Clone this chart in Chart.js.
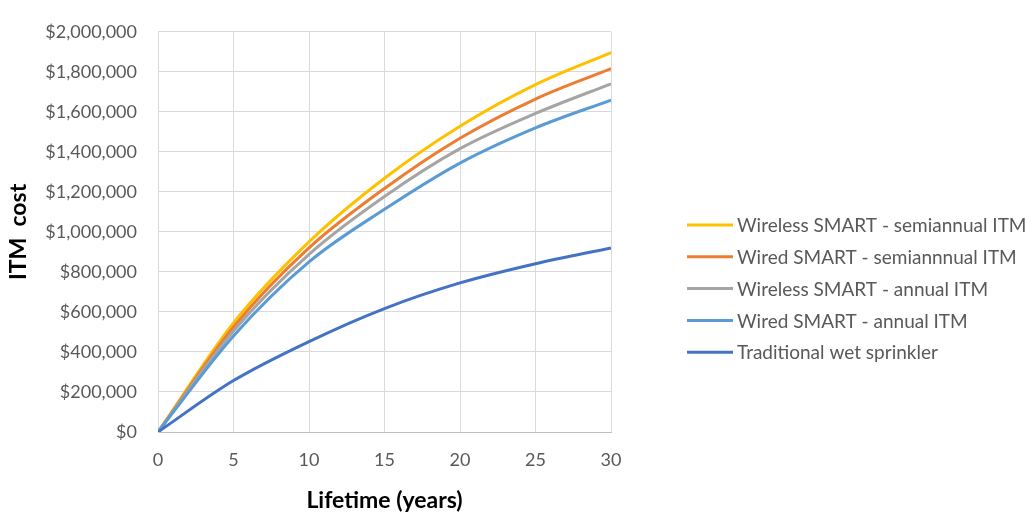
<!DOCTYPE html>
<html>
<head>
<meta charset="utf-8">
<script src="https://cdn.jsdelivr.net/npm/chart.js@4.4.1/dist/chart.umd.min.js"></script>
<style>
  html, body { margin: 0; padding: 0; background: #ffffff; }
  #wrap { width: 1030px; height: 520px; position: relative; }
</style>
</head>
<body>
<div id="wrap"><canvas id="c" width="1030" height="520"></canvas></div>
<script>
// ---- data ----
const years = [0, 5, 10, 15, 20, 25, 30];
const wirelessSemiannual = [0, 545000, 950000, 1268000, 1528000, 1736000, 1896000];
const wiredSemiannual    = [0, 525000, 920000, 1217000, 1468000, 1664000, 1816000];
const wirelessAnnual     = [0, 505000, 888000, 1177000, 1416000, 1592000, 1740000];
const wiredAnnual        = [0, 480000, 850000, 1113000, 1344000, 1520000, 1659000];
const traditionalWet     = [0, 257000, 452000, 617000, 745000, 841000, 920000];

const seriesNames = [
  'Wireless SMART - semiannual ITM',
  'Wired SMART - semiannnual ITM',
  'Wireless SMART - annual ITM',
  'Wired SMART - annual ITM',
  'Traditional wet sprinkler'
];
const seriesColors = ['#FFC000', '#ED7D31', '#A5A5A5', '#5B9BD5', '#4472C4'];
const seriesValues = [wirelessSemiannual, wiredSemiannual, wirelessAnnual, wiredAnnual, traditionalWet];

const xMin = 0, xMax = 30, xStep = 5;
const yMin = 0, yMax = 2000000, yStep = 200000;
const xTitle = 'Lifetime (years)';
const yTitle = 'ITM  cost';

const FONT = 'Lato, "Open Sans", "Liberation Sans", sans-serif';

const datasets = seriesValues.map((vals, i) => ({
  label: seriesNames[i],
  data: years.map((x, j) => ({ x: x, y: vals[j] })),
  borderColor: seriesColors[i],
  backgroundColor: seriesColors[i],
  borderWidth: 3,
  pointRadius: 0,
  pointHoverRadius: 0,
  cubicInterpolationMode: 'monotone',
  fill: false,
  order: seriesValues.length - i
}));

const legendPlugin = {
  id: 'customLegend',
  afterDraw(chart) {
    const ctx = chart.ctx;
    ctx.save();
    const x0 = 687, lineLen = 46, textX = 737;
    const yStart = 225, gap = 31.8;
    ctx.font = '19px ' + FONT;
    ctx.textBaseline = 'middle';
    ctx.textAlign = 'left';
    seriesNames.forEach((name, i) => {
      const y = yStart + i * gap;
      ctx.strokeStyle = seriesColors[i];
      ctx.lineWidth = 3;
      ctx.beginPath();
      ctx.moveTo(x0, y);
      ctx.lineTo(x0 + lineLen, y);
      ctx.stroke();
      ctx.fillStyle = '#595959';
      ctx.fillText(name, textX, y + 1);
    });
    ctx.restore();
  }
};

new Chart(document.getElementById('c'), {
  type: 'line',
  data: { datasets: datasets },
  plugins: [legendPlugin],
  options: {
    responsive: false,
    animation: false,
    devicePixelRatio: 1,
    layout: { padding: { left: 0, right: 419, top: 15, bottom: 0 } },
    plugins: {
      legend: { display: false },
      tooltip: { enabled: false }
    },
    scales: {
      x: {
        type: 'linear',
        min: xMin, max: xMax,
        afterFit(scale) { scale.height = 88; },
        ticks: {
          stepSize: xStep,
          color: '#595959',
          font: { family: FONT, size: 18 },
          padding: 17,
          maxRotation: 0
        },
        grid: { color: '#d9d9d9', lineWidth: 1, drawTicks: false },
        border: { color: '#bfbfbf', width: 1 },
        title: {
          display: true,
          text: xTitle,
          color: '#000000',
          font: { family: FONT, size: 23, weight: 'bold' },
          padding: { top: 0, bottom: 6 }
        }
      },
      y: {
        type: 'linear',
        min: yMin, max: yMax,
        afterFit(scale) { scale.width = 158; },
        ticks: {
          stepSize: yStep,
          color: '#595959',
          font: { family: FONT, size: 18 },
          padding: 21,
          callback: (v) => '$' + Number(v).toLocaleString('en-US')
        },
        grid: { color: '#d9d9d9', lineWidth: 1, drawTicks: false },
        border: { color: '#d9d9d9', width: 1 },
        title: {
          display: true,
          text: yTitle,
          color: '#000000',
          font: { family: FONT, size: 23, weight: 'bold' },
          padding: { top: 5, bottom: 0 }
        }
      }
    }
  }
});
</script>
</body>
</html>
